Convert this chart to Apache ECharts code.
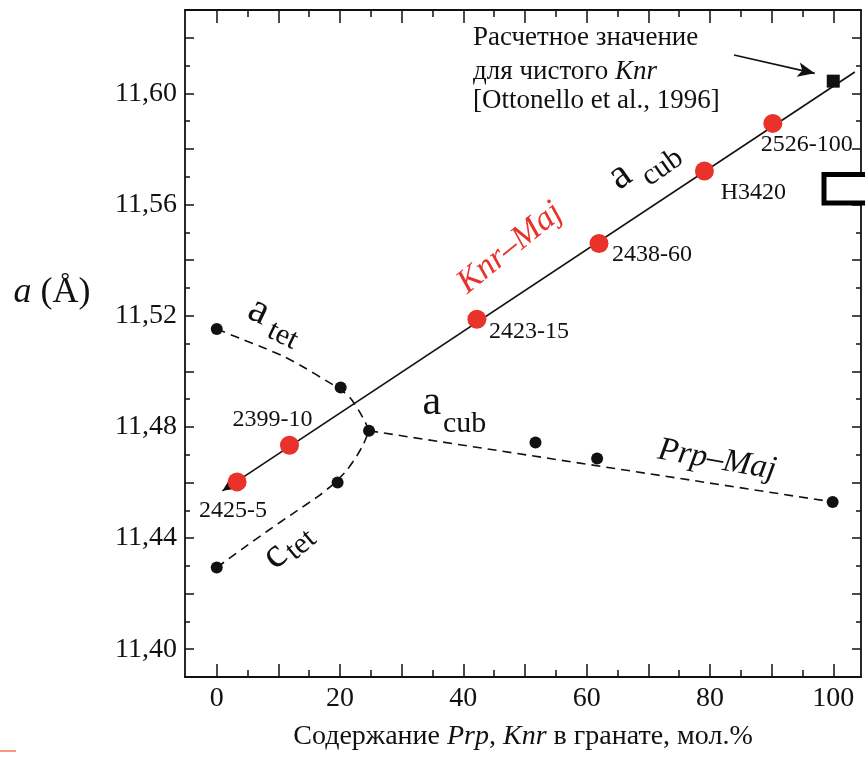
<!DOCTYPE html>
<html><head><meta charset="utf-8">
<script src="https://cdn.jsdelivr.net/npm/echarts@6/dist/echarts.min.js"></script>
<style>html,body{margin:0;padding:0;background:#fff}#c{width:865px;height:757px}</style>
</head><body><div id="c"></div>
<script>
// ---- tick positions / labels ----
const xMajorTicks = [0, 10, 20, 30, 40, 50, 60, 70, 80, 90, 100];
const xMinorTicks = [5, 15, 25, 35, 45, 55, 65, 75, 85, 95];
const xTickLabels = [0, 20, 40, 60, 80, 100];
const yMajorTicks = [11.40, 11.42, 11.44, 11.46, 11.48, 11.50, 11.52, 11.54, 11.56, 11.58, 11.60, 11.62];
const yMinorTicks = [11.41, 11.43, 11.45, 11.47, 11.49, 11.51, 11.53, 11.55, 11.57, 11.59, 11.61];
const yTickLabels = [11.40, 11.44, 11.48, 11.52, 11.56, 11.60];

// ---- data ----
const knrMajNames = ['2425-5', '2399-10', '2423-15', '2438-60', 'H3420', '2526-100'];
const knrMajX = [3.3, 11.8, 42.2, 62.0, 79.1, 90.2];
const knrMajY = [11.4602, 11.4734, 11.5187, 11.5460, 11.5721, 11.5892];
const knrCalc = [[100, 11.6044]];
const knrTrend = [[0.93, 11.4570], [103.5, 11.6077]];
const calloutArrow = [[83.9, 11.6138], [97.0, 11.6072]];
const tetPoints = [[0, 11.5152], [20.1, 11.4942], [24.7, 11.4786], [0, 11.4294], [19.6, 11.4600]];
const prpMajPoints = [[51.7, 11.4744], [61.7, 11.4686], [99.9, 11.4530]];
const aTetCurve = [[0, 11.5152], [3.8, 11.5118], [7.9, 11.5082], [11.1, 11.5051], [14.4, 11.5011], [17.6, 11.4968],
                   [20.1, 11.4934], [21.7, 11.4903], [23.0, 11.4860], [24.0, 11.4821], [24.7, 11.4786]];
const cTetCurve = [[0, 11.4294], [4.1, 11.4360], [8.4, 11.4428], [12.4, 11.4489], [16.5, 11.4551], [18.9, 11.4594],
                   [21.1, 11.4644], [22.7, 11.4695], [23.8, 11.4738], [24.7, 11.4786]];
const prpMajLine = [[24.7, 11.4786], [99.9, 11.4530]];

// ---- styling ----
const FONT = 'Liberation Serif';
const INK = '#111111';
const RED = '#e8322a';
const labelOffsets = [[-4, 29], [-17, -26], [52, 12], [53, 11], [49, 22], [34, 21]];

function xAx(pos, ticks, len, showLine, labels, extra) {
  return Object.assign({
    type: 'value', position: pos, min: -5.15, max: 104.5,
    axisLine: { show: showLine, onZero: false, lineStyle: { color: INK, width: 1.8 } },
    axisTick: { show: true, inside: true, length: len, customValues: ticks, lineStyle: { color: INK, width: 1.5 } },
    axisLabel: labels ? { show: true, customValues: labels, margin: 8, fontSize: 28, fontFamily: FONT, color: INK,
      formatter: v => String(Math.round(v)) } : { show: false },
    splitLine: { show: false }
  }, extra || {});
}
function yAx(pos, ticks, len, showLine, labels) {
  return {
    type: 'value', position: pos, min: 11.39, max: 11.63,
    axisLine: { show: showLine, onZero: false, lineStyle: { color: INK, width: 1.8 } },
    axisTick: { show: true, inside: true, length: len, customValues: ticks, lineStyle: { color: INK, width: 1.5 } },
    axisLabel: labels ? { show: true, customValues: labels, margin: 8, fontSize: 28, fontFamily: FONT, color: INK,
      formatter: v => v.toFixed(2).replace('.', ',') } : { show: false },
    splitLine: { show: false }
  };
}

const txt = (text, x, y, size, opts, rot) => ({
  type: 'text', x: x, y: y, z: 100, rotation: rot || 0,
  style: Object.assign({ text: text, fontSize: size, fontFamily: FONT, fill: INK, align: 'center', verticalAlign: 'middle' }, opts || {})
});
const dashStyle = { color: INK, width: 1.6, type: [9, 6] };

const chart = echarts.init(document.getElementById('c'), null, { renderer: 'canvas' });
chart.setOption({
  animation: false,
  backgroundColor: '#fff',
  grid: { left: 185, right: 4, top: 10, bottom: 80 },
  xAxis: [
    xAx('bottom', xMajorTicks, 13, true, xTickLabels, {
      name: '{n|Содержание }{i|Prp}{n|, }{i|Knr}{n| в гранате, мол.%}',
      nameLocation: 'middle', nameGap: 46,
      nameTextStyle: { rich: {
        n: { fontSize: 28, fontFamily: FONT, color: INK },
        i: { fontSize: 28, fontFamily: FONT, color: INK, fontStyle: 'italic' }
      } }
    }),
    xAx('bottom', xMinorTicks, 7, false, null),
    xAx('top', xMajorTicks, 13, true, null),
    xAx('top', xMinorTicks, 7, false, null)
  ],
  yAxis: [
    yAx('left', yMajorTicks, 9, true, yTickLabels),
    yAx('left', yMinorTicks, 5, false, null),
    yAx('right', yMajorTicks, 9, true, null),
    yAx('right', yMinorTicks, 5, false, null)
  ],
  series: [
    { type: 'line', data: aTetCurve, smooth: 0.2, showSymbol: false, symbol: 'none', silent: true, z: 2,
      lineStyle: dashStyle },
    { type: 'line', data: cTetCurve, smooth: 0.2, showSymbol: false, symbol: 'none', silent: true, z: 2,
      lineStyle: dashStyle },
    { type: 'line', data: prpMajLine, showSymbol: false, symbol: 'none', silent: true, z: 2,
      lineStyle: dashStyle },
    { type: 'scatter', data: knrCalc, symbol: 'rect', symbolSize: 13, itemStyle: { color: INK, opacity: 1 }, z: 4, silent: true,
      markLine: {
        silent: true, animation: false, label: { show: false },
        lineStyle: { color: INK, width: 1.6, type: 'solid', opacity: 1 },
        data: [
          [{ coord: knrTrend[0], symbol: 'arrow', symbolSize: [12, 17] }, { coord: knrTrend[1], symbol: 'none' }],
          [{ coord: calloutArrow[0], symbol: 'none' }, { coord: calloutArrow[1], symbol: 'arrow', symbolSize: [11, 17] }]
        ]
      } },
    { type: 'scatter', data: tetPoints.concat(prpMajPoints), symbolSize: 12, itemStyle: { color: INK, opacity: 1 }, z: 4, silent: true },
    { type: 'scatter', symbolSize: 19, itemStyle: { color: RED, opacity: 1 }, z: 5, silent: true,
      data: knrMajNames.map((n, i) => ({
        name: n, value: [knrMajX[i], knrMajY[i]],
        label: { show: true, position: 'inside', offset: labelOffsets[i], formatter: n,
          fontSize: 24, fontFamily: FONT, color: INK, opacity: 1 }
      })) }
  ],
  graphic: [
    { type: 'group', x: 259, y: 311, rotation: -0.45, children: [txt('a', 0, 0, 42), txt('tet', 17, 12, 30, { align: 'left' })] },
    { type: 'group', x: 275, y: 556, rotation: 0.7, children: [txt('c', 0, 0, 42), txt('tet', 12, 8.5, 30, { align: 'left' })] },
    { type: 'group', x: 431.7, y: 402.7, rotation: 0, children: [txt('a', 0, 0, 42), txt('cub', 11.3, 21, 30, { align: 'left' })] },
    { type: 'group', x: 620, y: 176, rotation: 0.61, children: [txt('a', 0, 0, 42), txt('cub', 18, 17.6, 30, { align: 'left' })] },
    txt('Knr–Maj', 510, 248, 34, { fill: RED, fontStyle: 'italic' }, 0.68),
    txt('Prp–Maj', 717, 460, 33, { fontStyle: 'italic' }, -0.175),
    txt('Расчетное значение', 473, 37.5, 27, { align: 'left' }),
    txt('{n|для чистого }{i|Knr}', 473, 71.5, 27, { align: 'left', rich: {
      n: { fontSize: 27, fontFamily: FONT, fill: INK }, i: { fontSize: 27, fontFamily: FONT, fill: INK, fontStyle: 'italic' } } }),
    txt('[Ottonello et al., 1996]', 473, 100.5, 27, { align: 'left' }),
    txt('{i|a} {n|(Å)}', 52, 293, 36, { rich: {
      n: { fontSize: 36, fontFamily: FONT, fill: INK }, i: { fontSize: 36, fontFamily: FONT, fill: INK, fontStyle: 'italic' } } }),
    { type: 'rect', z: 100, shape: { x: 824, y: 174.5, width: 60, height: 28.5 },
      style: { fill: '#fff', stroke: '#000', lineWidth: 5 } },
    { type: 'rect', z: 100, shape: { x: 0, y: 750, width: 16, height: 2 }, style: { fill: '#f39a7c' } }
  ]
});
</script>
</body></html>
